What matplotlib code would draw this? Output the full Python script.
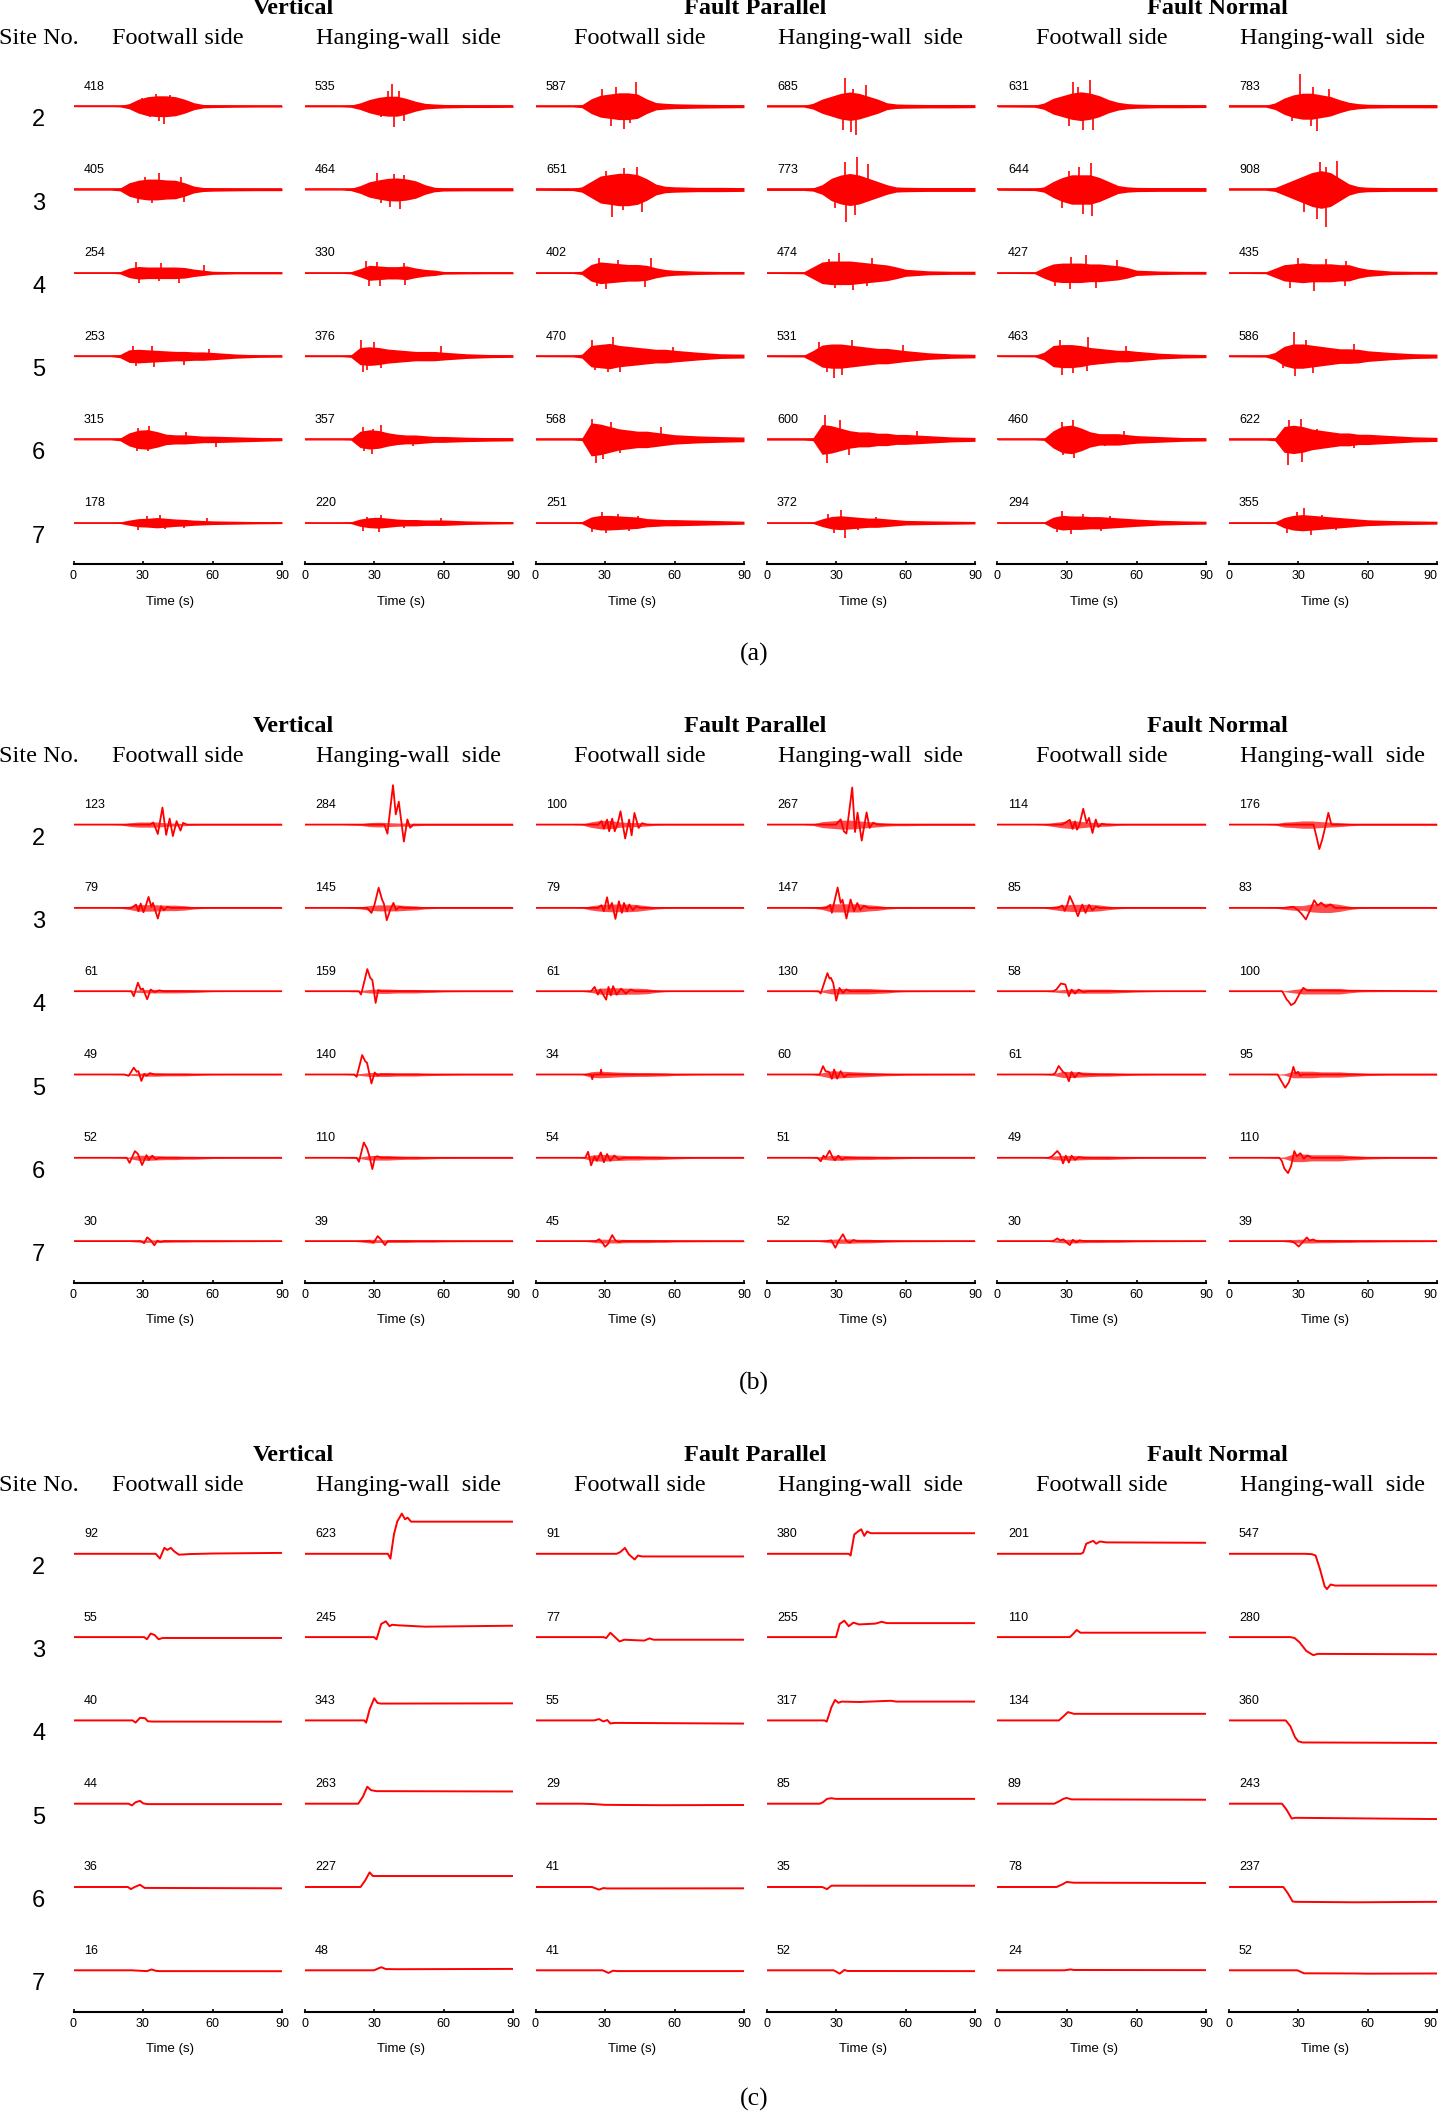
import matplotlib.pyplot as plt
import numpy as np

# ---------------- data ----------------
SITES = [2, 3, 4, 5, 6, 7]
COMPONENTS = ['Vertical', 'Fault Parallel', 'Fault Normal']
SIDES = ['Footwall side', 'Hanging-wall  side']
TIME_TICKS = [0, 30, 60, 90]
PANEL_LABELS = ['(a)', '(b)', '(c)']

# peak values (rows = sites 2..7, columns = V-FW, V-HW, FP-FW, FP-HW, FN-FW, FN-HW)
ACC_PEAK = [[418, 535, 587, 685, 631, 783],
            [405, 464, 651, 773, 644, 908],
            [254, 330, 402, 474, 427, 435],
            [253, 376, 470, 531, 463, 586],
            [315, 357, 568, 600, 460, 622],
            [178, 220, 251, 372, 294, 355]]
VEL_PEAK = [[123, 284, 100, 267, 114, 176],
            [79, 145, 79, 147, 85, 83],
            [61, 159, 61, 130, 58, 100],
            [49, 140, 34, 60, 61, 95],
            [52, 110, 54, 51, 49, 110],
            [30, 39, 45, 52, 30, 39]]
DISP_PEAK = [[92, 623, 91, 380, 201, 547],
             [55, 245, 77, 255, 110, 280],
             [40, 343, 55, 317, 134, 360],
             [44, 263, 29, 85, 89, 243],
             [36, 227, 41, 35, 78, 237],
             [16, 48, 41, 52, 24, 52]]

# envelope times (s) for the shaking bands, envelopes as fraction of the peak
ENV_T = [0, 16, 20, 24, 28, 32, 36, 40, 44, 48, 52, 56, 60, 70, 80, 90]

ACC_ENV = [
    [[0.03, 0.03, 0.04, 0.15, 0.4, 0.55, 0.6, 0.6, 0.55, 0.4, 0.2, 0.1, 0.08, 0.06, 0.05, 0.05],
     [0.03, 0.03, 0.05, 0.15, 0.3, 0.4, 0.45, 0.45, 0.35, 0.22, 0.13, 0.1, 0.08, 0.06, 0.06, 0.05],
     [0.03, 0.03, 0.06, 0.3, 0.45, 0.5, 0.55, 0.55, 0.5, 0.3, 0.15, 0.12, 0.1, 0.08, 0.07, 0.06],
     [0.03, 0.03, 0.1, 0.25, 0.35, 0.45, 0.5, 0.45, 0.35, 0.25, 0.12, 0.08, 0.07, 0.06, 0.06, 0.05],
     [0.03, 0.04, 0.12, 0.3, 0.4, 0.5, 0.55, 0.5, 0.4, 0.25, 0.15, 0.1, 0.08, 0.06, 0.06, 0.05],
     [0.03, 0.03, 0.1, 0.25, 0.35, 0.4, 0.4, 0.35, 0.3, 0.2, 0.12, 0.08, 0.06, 0.05, 0.05, 0.05]],
    [[0.04, 0.04, 0.08, 0.4, 0.55, 0.62, 0.62, 0.57, 0.55, 0.4, 0.2, 0.12, 0.1, 0.08, 0.07, 0.07],
     [0.03, 0.03, 0.06, 0.2, 0.4, 0.5, 0.58, 0.6, 0.55, 0.45, 0.25, 0.12, 0.08, 0.07, 0.07, 0.07],
     [0.03, 0.04, 0.1, 0.3, 0.5, 0.55, 0.6, 0.6, 0.55, 0.4, 0.2, 0.12, 0.1, 0.08, 0.08, 0.07],
     [0.03, 0.03, 0.05, 0.15, 0.35, 0.45, 0.5, 0.45, 0.35, 0.25, 0.15, 0.08, 0.07, 0.06, 0.06, 0.06],
     [0.03, 0.04, 0.1, 0.3, 0.45, 0.55, 0.55, 0.55, 0.45, 0.3, 0.15, 0.1, 0.08, 0.07, 0.07, 0.07],
     [0.02, 0.02, 0.05, 0.15, 0.25, 0.35, 0.45, 0.5, 0.45, 0.3, 0.15, 0.08, 0.06, 0.05, 0.05, 0.05]],
    [[0.05, 0.05, 0.1, 0.45, 0.6, 0.55, 0.55, 0.55, 0.55, 0.5, 0.35, 0.25, 0.15, 0.1, 0.1, 0.1],
     [0.04, 0.04, 0.08, 0.3, 0.55, 0.5, 0.45, 0.45, 0.5, 0.35, 0.25, 0.2, 0.1, 0.08, 0.07, 0.07],
     [0.04, 0.04, 0.1, 0.5, 0.65, 0.6, 0.55, 0.5, 0.5, 0.45, 0.3, 0.2, 0.15, 0.1, 0.08, 0.08],
     [0.03, 0.05, 0.3, 0.55, 0.6, 0.6, 0.6, 0.55, 0.5, 0.45, 0.4, 0.3, 0.18, 0.1, 0.08, 0.08],
     [0.03, 0.05, 0.3, 0.5, 0.55, 0.55, 0.55, 0.5, 0.5, 0.45, 0.4, 0.3, 0.15, 0.1, 0.08, 0.08],
     [0.03, 0.05, 0.25, 0.45, 0.5, 0.55, 0.5, 0.5, 0.5, 0.45, 0.45, 0.3, 0.2, 0.1, 0.08, 0.08]],
    [[0.05, 0.05, 0.15, 0.6, 0.65, 0.6, 0.55, 0.5, 0.45, 0.45, 0.4, 0.4, 0.35, 0.2, 0.12, 0.1],
     [0.04, 0.04, 0.08, 0.55, 0.6, 0.55, 0.45, 0.4, 0.35, 0.3, 0.3, 0.3, 0.25, 0.15, 0.1, 0.08],
     [0.03, 0.04, 0.1, 0.55, 0.6, 0.65, 0.55, 0.5, 0.45, 0.4, 0.35, 0.35, 0.3, 0.2, 0.12, 0.1],
     [0.03, 0.04, 0.25, 0.5, 0.55, 0.55, 0.5, 0.45, 0.4, 0.35, 0.35, 0.3, 0.25, 0.15, 0.1, 0.08],
     [0.03, 0.04, 0.2, 0.55, 0.6, 0.6, 0.55, 0.45, 0.4, 0.35, 0.3, 0.3, 0.25, 0.15, 0.1, 0.08],
     [0.03, 0.04, 0.15, 0.4, 0.5, 0.5, 0.45, 0.4, 0.35, 0.3, 0.3, 0.28, 0.22, 0.15, 0.1, 0.08]],
    [[0.04, 0.04, 0.1, 0.5, 0.7, 0.75, 0.6, 0.4, 0.35, 0.35, 0.3, 0.25, 0.25, 0.2, 0.15, 0.1],
     [0.04, 0.04, 0.05, 0.55, 0.65, 0.6, 0.45, 0.35, 0.3, 0.3, 0.25, 0.2, 0.2, 0.15, 0.12, 0.1],
     [0.03, 0.03, 0.05, 0.7, 0.65, 0.55, 0.45, 0.4, 0.35, 0.35, 0.3, 0.25, 0.2, 0.15, 0.12, 0.1],
     [0.03, 0.03, 0.05, 0.6, 0.55, 0.45, 0.35, 0.3, 0.3, 0.25, 0.25, 0.2, 0.2, 0.15, 0.1, 0.08],
     [0.03, 0.03, 0.05, 0.45, 0.7, 0.75, 0.6, 0.4, 0.3, 0.3, 0.3, 0.25, 0.2, 0.15, 0.1, 0.08],
     [0.03, 0.03, 0.05, 0.5, 0.55, 0.5, 0.4, 0.35, 0.3, 0.25, 0.25, 0.2, 0.2, 0.15, 0.1, 0.08]],
    [[0.06, 0.06, 0.1, 0.35, 0.55, 0.6, 0.7, 0.6, 0.5, 0.45, 0.35, 0.3, 0.25, 0.2, 0.15, 0.12],
     [0.05, 0.05, 0.1, 0.4, 0.55, 0.6, 0.5, 0.4, 0.35, 0.35, 0.3, 0.3, 0.3, 0.2, 0.15, 0.12],
     [0.05, 0.05, 0.1, 0.55, 0.7, 0.7, 0.65, 0.6, 0.55, 0.4, 0.35, 0.3, 0.3, 0.25, 0.2, 0.15],
     [0.03, 0.03, 0.05, 0.25, 0.4, 0.45, 0.4, 0.35, 0.3, 0.3, 0.25, 0.2, 0.15, 0.12, 0.1, 0.08],
     [0.04, 0.04, 0.05, 0.45, 0.6, 0.55, 0.55, 0.5, 0.5, 0.45, 0.4, 0.35, 0.3, 0.2, 0.15, 0.12],
     [0.04, 0.04, 0.05, 0.35, 0.5, 0.55, 0.5, 0.45, 0.4, 0.35, 0.3, 0.25, 0.2, 0.15, 0.12, 0.1]],
]

# largest acceleration spikes: (time s, fraction of peak)
ACC_SPIKES = [
    [[(29.7, 0.5), (35.7, 0.72), (36.7, -0.87), (39, -1.0), (41.8, 0.65), (33, -0.6)],
     [(37.6, 0.98), (38.6, -0.92), (35.9, 0.69), (40.9, 0.69), (42.9, -0.65), (33.1, -0.5)],
     [(43.2, 0.98), (38, -0.95), (34.7, 0.8), (32.5, -0.8), (28.5, 0.71), (40.8, -0.71)],
     [(34, 0.99), (38.5, -1.0), (36.5, -0.91), (43, 0.76), (33.2, -0.84), (37.5, 0.61)],
     [(39.8, 1.0), (32.7, 0.91), (36.7, -0.91), (41.2, -0.91), (30.7, -0.75), (34.7, 0.75)],
     [(31, 1.0), (38.3, -0.76), (43.3, 0.53), (35.4, -0.6), (36.4, 0.6), (27.4, -0.47)]],
    [[(36.7, 1.0), (27.7, -0.82), (33.7, -0.82), (47.6, -0.75), (46.6, 0.77), (30.7, 0.72)],
     [(31.1, 0.86), (38.6, 0.81), (41.4, -1.0), (36.7, -0.9), (43, 0.74), (33, -0.72)],
     [(44, 0.85), (38.4, 0.8), (32.9, -1.0), (45.8, -0.83), (30.5, 0.69), (37.6, -0.75)],
     [(38.9, 1.0), (33.8, 0.85), (34.5, -1.0), (38.3, -0.8), (44, 0.81), (29.6, -0.57)],
     [(40.2, 1.0), (35.1, 0.86), (41, -1.0), (36.7, -0.92), (30.7, 0.7), (27.7, -0.68)],
     [(41.9, -1.0), (46.9, 0.76), (39.3, 0.72), (38.3, -0.77), (42.3, 0.61), (32.4, -0.6)]],
    [[(28.1, -1.0), (45.6, -0.95), (26.8, 0.99), (37.7, 0.9), (56.5, 0.74), (36.7, -0.82)],
     [(26.6, 0.85), (27.7, -1.0), (32.7, -0.95), (31.1, 0.76), (43, 0.7), (43.5, -0.89)],
     [(30.5, -1.0), (49.7, 0.86), (27.5, 0.88), (47.4, -0.83), (35.5, 0.78), (26.6, -0.78)],
     [(31.2, 1.0), (37.5, -0.88), (29.6, -0.77), (45.4, 0.75), (27.1, 0.7), (43.4, -0.66)],
     [(38, 1.0), (31.1, -0.93), (42.6, -0.88), (31.7, 0.9), (51.5, 0.73), (24.8, -0.73)],
     [(36.8, -1.0), (30, 0.84), (26.4, -0.84), (42.3, 0.77), (50.9, 0.67), (50.2, -0.72)]],
    [[(25.8, 1.0), (34.7, -1.0), (33.7, 0.99), (26.8, -0.95), (58.5, 0.66), (47.6, -0.83)],
     [(24.2, 1.0), (25.2, -1.0), (27.1, -0.92), (30.1, 0.89), (33, -0.78), (58.9, 0.67)],
     [(33.5, 1.0), (31.5, -0.84), (24.6, 0.82), (36.5, -0.8), (59.3, 0.49), (25.6, -0.73)],
     [(29.2, -1.0), (37.1, 0.73), (32.6, -0.85), (22.7, 0.63), (58.8, 0.49), (26.1, -0.71)],
     [(39.2, 1.0), (27.7, -0.97), (26.8, 0.84), (32.7, -0.86), (55.5, 0.5), (38.6, -0.75)],
     [(28.4, 1.0), (28.9, -0.8), (33.4, 0.66), (36.4, -0.68), (54.2, 0.48), (23.4, -0.5)]],
    [[(32.7, 1.0), (27.4, -0.86), (32.3, -0.9), (27.7, 0.86), (48.6, 0.53), (61.4, -0.6)],
     [(33.1, 0.99), (29.1, -0.99), (25.2, 0.85), (25.6, -0.76), (29.6, 0.7), (47, -0.47)],
     [(26, -1.0), (24.2, 0.85), (29.1, -0.85), (32.5, 0.72), (54.3, 0.53), (36.5, -0.57)],
     [(25.3, 1.0), (26.1, -0.94), (31.6, 0.77), (35.5, -0.63), (65.1, 0.33), (29.6, -0.45)],
     [(32.7, 1.0), (33.2, -0.98), (27.7, 0.89), (28.2, -0.82), (54.5, 0.43), (46.6, -0.36)],
     [(25.8, -1.0), (31.4, 0.79), (31.9, -0.86), (26.3, 0.74), (38.3, 0.4), (54.2, -0.35)]],
    [[(37.3, 1.0), (27.7, -0.94), (31.7, 0.94), (39.6, -0.82), (57.5, 0.65), (47.6, -0.7)],
     [(32.1, -1.0), (33.1, 0.86), (25.2, -0.9), (27.1, 0.67), (58.9, 0.52), (43, -0.57)],
     [(28.5, 1.0), (30.5, -1.0), (35.5, 0.88), (24.6, -0.92), (44.4, 0.67), (40.4, -0.79)],
     [(34, -1.0), (32, 0.84), (29.2, -0.67), (26.6, 0.59), (47.4, 0.39), (39.5, -0.45)],
     [(27.7, 0.93), (31.7, -0.93), (36.7, 0.75), (25.8, -0.78), (48.6, 0.57), (44.6, -0.68)],
     [(32.4, 1.0), (35.4, -0.85), (29.4, 0.76), (25.4, -0.7), (40.3, 0.53), (46.3, -0.47)]],
]

# velocity coda noise envelope (fraction of peak) at ENV_T
VEL_BAND = [
    [[0, 0, 0.02, 0.1, 0.15, 0.15, 0.15, 0.1, 0.08, 0.06, 0.04, 0.03, 0.03, 0.03, 0.03, 0.03],
     [0, 0, 0.01, 0.02, 0.05, 0.06, 0.05, 0.04, 0.04, 0.03, 0.02, 0.02, 0.02, 0.02, 0.02, 0.02],
     [0, 0, 0.03, 0.2, 0.3, 0.3, 0.2, 0.15, 0.15, 0.1, 0.05, 0.03, 0.03, 0.03, 0.03, 0.03],
     [0, 0, 0.02, 0.08, 0.1, 0.12, 0.12, 0.1, 0.08, 0.06, 0.04, 0.03, 0.03, 0.02, 0.02, 0.02],
     [0, 0, 0.03, 0.12, 0.2, 0.25, 0.2, 0.15, 0.12, 0.1, 0.05, 0.03, 0.03, 0.03, 0.03, 0.03],
     [0, 0, 0.02, 0.1, 0.12, 0.15, 0.15, 0.12, 0.1, 0.08, 0.05, 0.03, 0.03, 0.03, 0.03, 0.03]],
    [[0, 0, 0.02, 0.15, 0.3, 0.3, 0.28, 0.25, 0.25, 0.2, 0.1, 0.05, 0.03, 0.03, 0.03, 0.03],
     [0, 0, 0.02, 0.05, 0.12, 0.15, 0.15, 0.15, 0.12, 0.1, 0.05, 0.03, 0.02, 0.02, 0.02, 0.02],
     [0, 0, 0.02, 0.2, 0.3, 0.35, 0.35, 0.35, 0.3, 0.2, 0.1, 0.05, 0.03, 0.03, 0.03, 0.03],
     [0, 0, 0.02, 0.08, 0.2, 0.2, 0.2, 0.2, 0.15, 0.12, 0.06, 0.03, 0.03, 0.02, 0.02, 0.02],
     [0, 0, 0.02, 0.15, 0.25, 0.3, 0.3, 0.3, 0.25, 0.15, 0.08, 0.04, 0.03, 0.03, 0.03, 0.03],
     [0, 0, 0.02, 0.12, 0.2, 0.2, 0.35, 0.4, 0.4, 0.3, 0.15, 0.06, 0.04, 0.03, 0.03, 0.03]],
    [[0, 0, 0.02, 0.05, 0.15, 0.2, 0.2, 0.2, 0.2, 0.18, 0.15, 0.1, 0.05, 0.03, 0.03, 0.03],
     [0, 0, 0.02, 0.03, 0.08, 0.1, 0.1, 0.08, 0.08, 0.08, 0.06, 0.05, 0.03, 0.02, 0.02, 0.02],
     [0, 0, 0.02, 0.15, 0.35, 0.4, 0.4, 0.35, 0.35, 0.3, 0.15, 0.05, 0.03, 0.03, 0.03, 0.03],
     [0, 0, 0.02, 0.05, 0.15, 0.15, 0.15, 0.15, 0.15, 0.12, 0.1, 0.05, 0.03, 0.02, 0.02, 0.02],
     [0, 0, 0.02, 0.1, 0.2, 0.25, 0.25, 0.25, 0.25, 0.25, 0.2, 0.15, 0.1, 0.04, 0.03, 0.03],
     [0, 0, 0.02, 0.03, 0.12, 0.2, 0.2, 0.2, 0.2, 0.2, 0.12, 0.06, 0.04, 0.03, 0.03, 0.03]],
    [[0, 0, 0.02, 0.1, 0.2, 0.25, 0.25, 0.2, 0.2, 0.2, 0.15, 0.1, 0.05, 0.04, 0.04, 0.04],
     [0, 0, 0.02, 0.05, 0.1, 0.1, 0.1, 0.08, 0.08, 0.08, 0.06, 0.05, 0.04, 0.02, 0.02, 0.02],
     [0, 0, 0.02, 0.6, 0.7, 0.6, 0.5, 0.45, 0.4, 0.4, 0.35, 0.3, 0.2, 0.08, 0.05, 0.05],
     [0, 0, 0.02, 0.2, 0.45, 0.4, 0.35, 0.3, 0.25, 0.2, 0.15, 0.12, 0.08, 0.05, 0.04, 0.04],
     [0, 0, 0.02, 0.1, 0.35, 0.35, 0.3, 0.25, 0.2, 0.2, 0.15, 0.12, 0.08, 0.04, 0.04, 0.04],
     [0, 0, 0.02, 0.05, 0.25, 0.25, 0.25, 0.2, 0.2, 0.2, 0.15, 0.12, 0.08, 0.04, 0.04, 0.04]],
    [[0, 0, 0.02, 0.1, 0.35, 0.35, 0.3, 0.25, 0.25, 0.2, 0.2, 0.15, 0.1, 0.05, 0.04, 0.04],
     [0, 0, 0.02, 0.05, 0.15, 0.15, 0.15, 0.12, 0.1, 0.1, 0.08, 0.06, 0.04, 0.03, 0.03, 0.03],
     [0, 0, 0.02, 0.35, 0.45, 0.4, 0.35, 0.3, 0.3, 0.25, 0.25, 0.2, 0.15, 0.06, 0.04, 0.04],
     [0, 0, 0.02, 0.2, 0.35, 0.35, 0.3, 0.25, 0.25, 0.2, 0.2, 0.15, 0.12, 0.05, 0.04, 0.04],
     [0, 0, 0.02, 0.25, 0.35, 0.35, 0.3, 0.25, 0.25, 0.25, 0.2, 0.15, 0.1, 0.05, 0.04, 0.04],
     [0, 0, 0.02, 0.05, 0.25, 0.25, 0.2, 0.2, 0.2, 0.2, 0.15, 0.12, 0.08, 0.04, 0.04, 0.04]],
    [[0, 0, 0.02, 0.1, 0.25, 0.3, 0.3, 0.3, 0.25, 0.25, 0.2, 0.2, 0.2, 0.15, 0.12, 0.1],
     [0, 0, 0.02, 0.15, 0.35, 0.25, 0.25, 0.25, 0.25, 0.2, 0.2, 0.2, 0.15, 0.12, 0.1, 0.1],
     [0, 0, 0.02, 0.15, 0.3, 0.3, 0.3, 0.25, 0.25, 0.25, 0.2, 0.2, 0.15, 0.12, 0.1, 0.1],
     [0, 0, 0.02, 0.1, 0.25, 0.3, 0.3, 0.25, 0.25, 0.2, 0.15, 0.12, 0.1, 0.08, 0.06, 0.06],
     [0, 0, 0.02, 0.2, 0.4, 0.45, 0.4, 0.35, 0.35, 0.3, 0.3, 0.25, 0.2, 0.15, 0.12, 0.1],
     [0, 0, 0.02, 0.1, 0.3, 0.35, 0.35, 0.3, 0.3, 0.25, 0.25, 0.2, 0.2, 0.15, 0.12, 0.1]],
]

# velocity pulses: (time s, fraction of peak)
VEL_KEYS = [
    [[(0, 0), (33, 0), (34.5, 0.12), (36.4, -0.55), (38.4, 1.0), (40, -0.6), (41.5, 0.35), (42.9, -0.67), (44.5, 0.2), (46.2, -0.35), (47.3, 0.1), (49, 0), (90, 0)],
     [(0, 0), (34.5, 0), (35.8, -0.23), (38.2, 1.0), (39.4, 0.26), (40.7, 0.58), (42.9, -0.43), (44.4, 0.13), (45.6, -0.08), (47, 0), (90, 0)],
     [(0, 0), (27, 0), (28.5, 0.25), (29.5, -0.3), (30.9, 0.36), (31.8, -0.48), (33.1, 0.43), (34.2, -0.48), (35.5, 0.1), (36.7, 0.96), (38.7, -1.0), (40.4, 0.36), (41.5, -0.77), (42.7, 0.84), (44.5, -0.24), (46, 0.1), (48, 0), (90, 0)],
     [(0, 0), (30, 0), (32, 0.14), (33.4, -0.18), (34.5, -0.24), (37, 1.0), (38.2, -0.2), (39.3, 0.32), (41.1, -0.43), (43.2, 0.33), (44.5, -0.09), (46, 0.05), (48, 0), (90, 0)],
     [(0, 0), (28, 0), (31.2, 0.3), (32.4, -0.27), (33.5, 0.2), (34.3, -0.32), (35.3, -0.05), (37, 1.0), (38.5, 0.1), (39.5, 0.42), (41, -0.53), (42.4, 0.32), (43.5, -0.15), (45, 0.05), (47, 0), (90, 0)],
     [(0, 0), (30, 0), (36.7, 0.0), (38, -0.5), (39.2, -1.0), (40.5, -0.6), (41.5, -0.2), (43.1, 0.48), (44.4, 0.0), (90, 0)]],
    [[(0, 0), (25, 0), (27, 0.3), (28, -0.3), (29, 0.4), (30.2, -0.4), (31.2, 0.2), (32.4, 1.0), (33.6, 0.1), (34.3, 0.45), (36.4, -0.97), (37.8, 0.15), (39, -0.2), (40.5, 0.1), (42, 0), (90, 0)],
     [(0, 0), (27, 0), (28.9, -0.25), (30.2, 0.15), (32, 1.0), (33.5, 0.41), (34.3, 0.2), (35.5, -0.61), (37, -0.1), (38.4, 0.25), (39.5, -0.1), (41, 0.05), (43, 0), (90, 0)],
     [(0, 0), (27, 0), (28.5, 0.25), (29.5, -0.3), (30.9, 0.97), (31.8, -0.1), (33, 0.45), (34.5, -1.0), (36, 0.6), (37.3, -0.45), (38.2, 0.45), (39.5, -0.3), (40.5, 0.3), (42, -0.2), (43.5, 0.15), (45, 0), (90, 0)],
     [(0, 0), (26, 0), (27.5, 0.15), (28.2, -0.24), (30.7, 1.0), (32, 0.24), (32.8, 0.4), (34.5, -0.52), (36.3, 0.41), (37.8, -0.16), (39.2, 0.24), (40.5, -0.1), (42, 0.1), (44, 0), (90, 0)],
     [(0, 0), (26, 0), (28, 0.2), (29, -0.25), (30.2, 0.3), (31.2, 1.0), (32.6, 0.4), (34.7, -0.7), (36.6, 0.28), (38, -0.42), (39.5, 0.25), (41, -0.2), (42.5, 0.1), (44, 0), (90, 0)],
     [(0, 0), (24, 0), (28, 0.1), (30, -0.2), (31.5, -0.5), (33.4, -1.0), (35, -0.3), (37, 0.66), (38.5, 0.2), (40, 0.45), (42, 0.1), (44, 0.3), (46, 0), (90, 0)]],
    [[(0, 0), (25, 0), (26, -0.6), (27.8, 1.0), (29, 0.2), (30, 0.3), (31.8, -0.95), (33.3, 0.2), (35, -0.1), (37, 0.1), (39, 0), (90, 0)],
     [(0, 0), (23.5, 0), (24.4, -0.15), (25.5, 0.3), (27.1, 1.0), (28.4, 0.6), (29.3, 0.5), (30.7, -0.53), (31.8, 0.05), (33, 0), (90, 0)],
     [(0, 0), (24, 0), (25.5, 0.5), (26.9, -0.4), (28, 0.2), (29, -0.3), (30.5, -1.0), (31.5, 0.5), (32.5, -0.5), (33.5, 0.6), (35, -0.4), (37, 0.3), (39, -0.3), (41, 0.2), (43, 0), (90, 0)],
     [(0, 0), (22.5, 0), (23.4, -0.13), (26.3, 1.0), (27.2, 0.7), (27.8, 0.74), (28.8, 0.45), (30.1, -0.52), (31.5, 0.18), (33, -0.1), (34.5, 0.1), (36, 0), (90, 0)],
     [(0, 0), (24, 0), (25.4, 0.2), (27.4, 0.95), (29.3, 0.83), (30.8, -0.62), (32, 0.2), (33.5, -0.3), (35, 0.2), (37, -0.1), (39, 0), (90, 0)],
     [(0, 0), (23.2, 0), (25.1, -0.6), (26, -0.75), (27, -1.0), (28.5, -0.85), (30, -0.4), (30.9, -0.1), (32.3, 0.24), (34, 0.05), (90, 0)]],
    [[(0, 0), (22, 0), (23.8, -0.2), (26, 1.0), (27.3, 0.4), (28, 0.5), (29.3, -0.95), (30.5, 0.1), (31.5, -0.2), (33, 0.2), (35, 0), (90, 0)],
     [(0, 0), (21.5, 0), (22.5, -0.12), (24.9, 1.0), (26.2, 0.68), (27, 0.6), (28.9, -0.46), (30.3, 0.1), (31.5, -0.05), (33, 0), (90, 0)],
     [(0, 0), (24, 0), (24.5, -1.0), (25, 0), (28, 0), (28.3, 1.0), (28.6, 0), (90, 0)],
     [(0, 0), (23, 0), (24.4, 1.0), (25.5, 0.4), (27, 0.3), (28.2, -0.52), (29.2, 0.6), (30.5, -0.5), (32, 0.4), (33.5, -0.3), (35, 0), (90, 0)],
     [(0, 0), (24, 0), (25, 0.2), (26.4, 1.0), (28.3, 0.3), (29.5, 0.1), (30.8, -0.8), (32, 0.3), (33.3, -0.35), (35, 0.2), (37, 0), (90, 0)],
     [(0, 0), (21.2, 0), (22.8, -0.5), (24.5, -1.0), (26, -0.6), (27, -0.1), (28, 0.58), (29, 0.05), (30, 0.2), (31, -0.1), (32, 0), (90, 0)]],
    [[(0, 0), (23, 0), (24.2, -0.7), (26.5, 0.92), (27.8, 0.55), (29.6, -1.0), (31.5, 0.37), (32.5, -0.3), (34, 0.3), (35.5, -0.2), (37, 0), (90, 0)],
     [(0, 0), (22.5, 0), (23.5, -0.26), (25.6, 1.0), (27, 0.61), (28, 0.1), (29.3, -0.74), (30.4, 0.05), (31.5, 0.1), (33, 0), (90, 0)],
     [(0, 0), (21.5, 0), (22.7, 0.8), (24, -1.0), (25.5, 0.2), (26.5, -0.4), (28.2, 0.71), (29.5, -0.6), (30.9, 0.5), (32.3, -0.4), (34, 0.3), (36, -0.2), (38, 0), (90, 0)],
     [(0, 0), (22, 0), (23.4, -0.5), (24.6, 0.3), (25.5, 0.0), (27.2, 1.0), (28.5, 0.1), (29.5, -0.35), (31, 0.3), (32.5, -0.25), (34, 0), (90, 0)],
     [(0, 0), (22, 0), (23.5, 0.2), (25.8, 1.0), (27, 0.5), (28.3, -0.83), (29.5, 0.3), (30.8, -0.7), (32, 0.3), (33.5, -0.3), (35, 0.1), (37, 0), (90, 0)],
     [(0, 0), (22, 0), (23, -0.2), (24.1, -0.7), (25.7, -1.0), (27, -0.55), (28.4, 0.44), (29.5, 0.1), (31, 0.3), (32.5, -0.05), (34, 0.15), (36, 0), (90, 0)]],
    [[(0, 0), (29, 0), (30.5, -0.5), (31.8, 0.9), (33.3, 0.2), (34.9, -1.0), (36.2, 0.1), (37.5, -0.2), (39, 0), (90, 0)],
     [(0, 0), (28, 0), (29.8, -0.3), (31.6, 0.92), (33, 0.3), (34.7, -0.74), (36, 0), (90, 0)],
     [(0, 0), (26, 0), (27.5, 0.3), (29, -0.3), (30, -0.9), (31.2, -0.5), (33.1, 0.96), (34.5, 0.1), (36, -0.15), (37.5, 0), (90, 0)],
     [(0, 0), (26, 0), (28, 0.1), (29.7, -0.92), (31.3, 0.1), (33, 0.95), (34.5, 0), (36, -0.2), (37.5, 0.15), (39, 0), (90, 0)],
     [(0, 0), (24, 0), (25.8, 0.64), (27, 0.2), (28.5, 0.4), (30, -0.4), (31.2, -0.96), (32.5, 0.3), (34, -0.3), (35.5, 0.2), (37, 0), (90, 0)],
     [(0, 0), (27, 0), (28.5, -0.3), (30.3, -1.0), (31.8, -0.3), (33.8, 0.67), (35, 0.1), (36.5, 0.3), (38, 0), (90, 0)]],
]

# displacement histories: (time s, fraction of peak)
DISP_KEYS = [
    [[(0, 0), (35.5, 0), (37.3, -0.8), (39.2, 1.0), (40.5, 0.65), (42, 1.0), (43.5, 0.4), (45.5, -0.15), (50, -0.05), (60, 0.05), (90, 0.15)],
     [(0, 0), (36, 0), (37.1, -0.12), (38.6, 0.48), (40, 0.8), (42, 1.0), (43.4, 0.86), (44.5, 0.9), (46, 0.8), (48, 0.8), (90, 0.8)],
     [(0, 0), (35, 0), (36.6, 0.3), (38.6, 1.0), (40.3, -0.1), (42.8, -0.97), (44.2, -0.3), (46, -0.45), (90, -0.45)],
     [(0, 0), (35.5, 0), (36.3, -0.07), (37.9, 0.79), (39.5, 0.91), (40.9, 1.0), (42.2, 0.73), (43.4, 0.91), (45, 0.84), (90, 0.84)],
     [(0, 0), (36, 0), (37, 0.1), (38.3, 0.78), (41.3, 1.0), (42.6, 0.78), (44.2, 0.95), (47, 0.88), (90, 0.85)],
     [(0, 0), (33, 0), (36, -0.01), (37.6, -0.05), (39.6, -0.46), (41.5, -0.92), (42.5, -1.0), (44.1, -0.87), (46, -0.9), (90, -0.9)]],
    [[(0, 0), (30.5, 0), (31.7, -0.6), (33.3, 1.0), (35, 0.6), (36.7, -0.6), (38.5, -0.25), (90, -0.25)],
     [(0, 0), (30, 0), (31.1, -0.14), (33.1, 0.83), (35.1, 1.0), (36.7, 0.69), (37.8, 0.78), (40, 0.75), (52, 0.66), (90, 0.72)],
     [(0, 0), (29.3, 0), (30.5, -0.2), (32.3, 0.88), (34.3, 0), (36.3, -0.88), (38.3, -0.53), (47, -0.7), (49.2, -0.26), (51, -0.53), (90, -0.53)],
     [(0, 0), (30, 0), (31.6, 0.8), (33.6, 1.0), (35.5, 0.66), (37.5, 0.88), (40, 0.77), (47, 0.82), (49.7, 0.93), (52, 0.85), (90, 0.85)],
     [(0, 0), (31.2, 0), (32.5, 0.4), (34.2, 1.0), (35.8, 0.62), (90, 0.62)],
     [(0, 0), (26.7, 0), (28.5, -0.05), (30.7, -0.29), (33.6, -0.77), (36.6, -1.0), (38.5, -0.93), (90, -0.95)]],
    [[(0, 0), (25.5, 0), (26.8, -0.85), (28.7, 1.0), (30.9, 0.85), (32.1, -0.35), (34, -0.45), (90, -0.5)],
     [(0, 0), (25.8, 0), (26.6, -0.1), (28.1, 0.49), (30.1, 1.0), (31.5, 0.79), (33, 0.76), (90, 0.77)],
     [(0, 0), (25.4, 0), (27.4, 0.37), (29.3, -0.3), (31, 0.1), (32.3, -0.86), (34.3, -0.7), (90, -0.9)],
     [(0, 0), (25, 0), (26, -0.06), (28, 0.64), (29.6, 1.0), (31, 0.86), (32.4, 0.92), (40, 0.9), (53.7, 0.96), (56, 0.92), (90, 0.92)],
     [(0, 0), (26.5, 0), (28, 0.35), (30.4, 0.96), (33, 0.76), (90, 0.76)],
     [(0, 0), (24.7, 0), (26.7, -0.25), (28.7, -0.72), (30.1, -0.9), (32, -0.95), (90, -0.97)]],
    [[(0, 0), (23.8, 0), (25.2, -0.6), (26.8, 0.5), (28.7, 1.0), (30.1, 0.1), (32, -0.15), (90, -0.15)],
     [(0, 0), (23.2, 0), (25.2, 0.41), (27.1, 1.0), (28.7, 0.8), (31, 0.74), (90, 0.72)],
     [(0, 0), (20, 0), (25, -0.2), (30, -0.6), (40, -0.7), (55, -0.8), (90, -0.7)],
     [(0, 0), (23, 0), (24.5, 0.3), (26.1, 0.88), (28, 1.0), (30, 0.88), (90, 0.88)],
     [(0, 0), (24.5, 0), (26.5, 0.4), (28.4, 0.84), (29.8, 1.0), (32, 0.75), (90, 0.69)],
     [(0, 0), (23.1, 0), (25.1, -0.39), (27.3, -0.95), (28.7, -0.9), (90, -0.98)]],
    [[(0, 0), (23.5, 0), (24.8, -0.9), (26.4, 0), (28.7, 0.95), (30.7, -0.4), (90, -0.55)],
     [(0, 0), (24.2, 0), (26.2, 0.45), (28.1, 1.0), (29.5, 0.75), (90, 0.75)],
     [(0, 0), (24.4, 0), (27.4, -1.0), (29.3, -0.4), (31, -0.55), (90, -0.5)],
     [(0, 0), (24.1, 0), (26.1, -0.96), (28, 0.58), (90, 0.55)],
     [(0, 0), (25.5, 0), (28.4, 0.61), (29.8, 1.0), (33, 0.85), (90, 0.8)],
     [(0, 0), (23.7, 0), (25.7, -0.43), (27.7, -0.95), (29, -0.97), (55, -1.0), (90, -0.97)]],
    [[(0, 0), (25, 0), (31.7, -0.8), (33.7, 0.8), (35.5, -0.5), (37, -0.8), (90, -0.9)],
     [(0, 0), (30, 0), (33.1, 1.0), (35.1, 0.4), (40, 0.35), (90, 0.45)],
     [(0, 0), (29, 0), (31.5, -1.0), (33.5, -0.15), (35, -0.3), (90, -0.3)],
     [(0, 0), (29, 0), (31.6, -1.0), (33.6, 0.1), (35, -0.2), (90, -0.25)],
     [(0, 0), (29, 0), (31.5, 0.57), (33, 0.2), (90, 0.1)],
     [(0, 0), (29.7, 0), (32.6, -0.9), (55, -0.95), (60, -1.0), (90, -0.95)]],
]

# ---------------- layout (pixels) ----------------
W, H = 1439, 2116
COL_LEFT, COL_STEP, COL_W = 73.5, 231, 208.5
ROW_TOP, ROW_STEP = 458, 83.3      # first trace height above time axis, spacing
AX_H = 520
SANS = 'Liberation Sans'
SERIF = 'Liberation Serif'
RED = '#ff0000'

panels = [
    dict(axis_y=564.2, label_y=654, peak=ACC_PEAK, k=0.0415, kind='acc'),
    dict(axis_y=1282.6, label_y=1383, peak=VEL_PEAK, k=0.139, kind='vel'),
    dict(axis_y=2011.8, label_y=2099, peak=DISP_PEAK, k=0.0645, kind='disp'),
]

plt.rcParams['font.family'] = SANS
fig = plt.figure(figsize=(W / 100, H / 100), dpi=100)


def fx(px):
    return px / W


def fy(py):
    return 1 - py / H


for p, lab in zip(panels, PANEL_LABELS):
    ay = p['axis_y']
    # headers
    for i, comp in enumerate(COMPONENTS):
        cx = COL_LEFT + COL_STEP * (2 * i) + COL_W / 2 + COL_STEP / 2
        fig.text(fx(cx), fy(ay - 556), comp, family=SERIF, weight='bold',
                 fontsize=17.5, ha='center', va='center')
    for c in range(6):
        cx = COL_LEFT + COL_STEP * c + COL_W / 2
        fig.text(fx(cx), fy(ay - 526), SIDES[c % 2], family=SERIF,
                 fontsize=17.5, ha='center', va='center')
    fig.text(fx(-1), fy(ay - 526), 'Site No.', family=SERIF, fontsize=17.5,
             ha='left', va='center')
    for r, site in enumerate(SITES):
        fig.text(fx(38.6), fy(ay - (ROW_TOP - r * ROW_STEP) + 14), str(site),
                 fontsize=17, ha='center', va='center')
    fig.text(fx(754), fy(p['label_y']), lab, family=SERIF, fontsize=18.5,
             ha='center', va='center')

    for c in range(6):
        left = COL_LEFT + COL_STEP * c
        ax = fig.add_axes([fx(left), fy(ay), COL_W / W, AX_H / H])
        ax.set_xlim(0, 90)
        ax.set_ylim(0, AX_H)
        for s in ['left', 'right', 'top']:
            ax.spines[s].set_visible(False)
        ax.spines['bottom'].set_linewidth(1.5)
        ax.set_yticks([])
        ax.set_xticks(TIME_TICKS)
        ax.tick_params(axis='x', direction='in', length=2.5, width=1.2,
                       labelsize=9, pad=4.5)
        if c == 5:
            # keep the last "90" inside the figure edge
            ax.get_xticklabels()[-1].set_horizontalalignment('right')
        ax.patch.set_alpha(0)
        ax.text(41.7, -37.5, 'Time (s)', fontsize=9.5, ha='center', va='center')

        for r in range(6):
            off = ROW_TOP - r * ROW_STEP
            peak = p['peak'][r][c]
            amp = peak * p['k']
            if p['kind'] == 'acc':
                env = np.array(ACC_ENV[r][c]) * amp
                ax.fill_between(ENV_T, off - env, off + env, color=RED, lw=0)
                ax.plot([0, 90], [off, off], color=RED, lw=1.2)
                ts, vs = zip(*ACC_SPIKES[r][c])
                ax.vlines(ts, off, off + np.array(vs) * amp, color=RED, lw=1.2)
            elif p['kind'] == 'vel':
                env = np.array(VEL_BAND[r][c]) * amp
                ax.fill_between(ENV_T, off - env, off + env, color=RED,
                                lw=0, alpha=0.7)
                ts, vs = zip(*VEL_KEYS[r][c])
                ax.plot(ts, off + np.array(vs) * amp, color=RED, lw=1.3)
            else:
                ts, vs = zip(*DISP_KEYS[r][c])
                ax.plot(ts, off + np.array(vs) * amp, color=RED, lw=1.4)
            ax.text(4.5, off + 19.5, str(peak), fontsize=9, ha='left', va='center')

fig.savefig('out.png', dpi=100)
